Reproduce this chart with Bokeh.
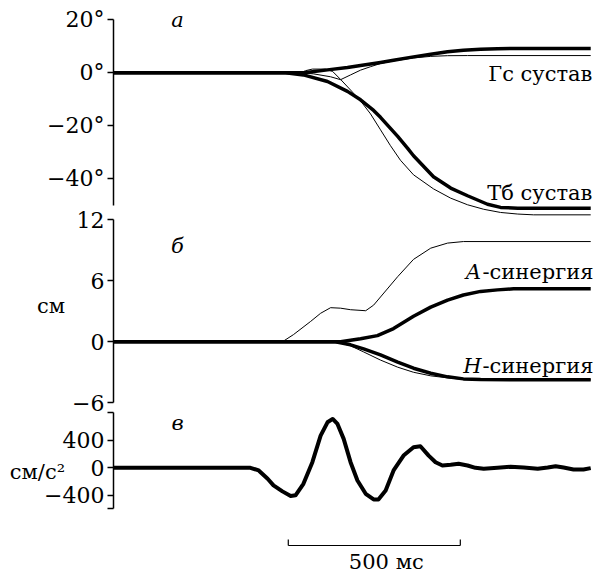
from bokeh.plotting import figure
from bokeh.models import Range1d, LinearAxis, FixedTicker, Label
from bokeh.layouts import column
from bokeh.embed import file_html
from bokeh.resources import INLINE

FONT = "DejaVu Serif"
FS = "21px"
TICK_FS = "22px"

# ---- panel а: joint angles (deg) ----
gs_thick_t = [0, 515, 560, 622, 680, 718, 776, 814, 872, 922, 971, 1017, 1067, 1116, 1163, 1387]
gs_thick_v = [0, 0, 0.15, 1.1, 2.0, 2.75, 3.9, 4.7, 6.0, 7.0, 7.9, 8.5, 8.9, 9.1, 9.2, 9.2]
gs_thin_t = [0, 544, 581, 631, 660, 689, 718, 747, 776, 814, 872, 922, 971, 1029, 1387]
gs_thin_v = [0, 0, -0.4, -1.5, -2.6, -0.8, 1.0, 2.3, 3.5, 4.5, 5.6, 6.2, 6.45, 6.5, 6.5]
tb_thick_t = [0, 500, 552, 622, 680, 718, 756, 776, 826, 855, 872, 930, 980, 1029, 1087, 1125, 1175, 1387]
tb_thick_v = [0, 0, -0.8, -3.3, -7.0, -10.2, -14.2, -16.8, -24, -28.5, -31.3, -39.2, -43.5, -46.4, -49.6, -50.8, -51.1, -51.1]
tb_thin_t = [0, 544, 558, 578, 616, 637, 660, 689, 718, 747, 776, 805, 834, 872, 930, 980, 1029, 1076, 1125, 1175, 1221, 1387]
tb_thin_v = [0, 0, 0.8, 1.4, 1.4, 0.5, -2.5, -6.5, -10.6, -15.5, -21.5, -27.5, -33, -38.5, -43.8, -47.3, -49.8, -51.5, -52.7, -53.3, -53.6, -53.6]

# ---- panel б: synergies (cm) ----
a_thin_t = [0, 491, 523, 573, 602, 631, 660, 689, 733, 756, 776, 826, 872, 922, 971, 1017, 1387]
a_thin_v = [0, 0, 0.7, 2.0, 2.8, 3.35, 3.3, 3.15, 3.05, 3.6, 4.4, 6.4, 8.1, 9.2, 9.7, 9.85, 9.85]
a_thick_t = [0, 660, 718, 767, 814, 872, 922, 971, 1017, 1067, 1116, 1163, 1387]
a_thick_v = [0, 0, 0.3, 0.6, 1.3, 2.5, 3.4, 4.1, 4.6, 4.95, 5.1, 5.2, 5.2]
h_thick_t = [0, 645, 689, 727, 776, 826, 872, 922, 971, 1017, 1067, 1387]
h_thick_v = [0, 0, -0.3, -0.7, -1.3, -2.0, -2.6, -3.1, -3.45, -3.65, -3.72, -3.74]
h_thin_t = [0, 645, 689, 727, 776, 826, 872, 922, 971, 1017, 1067, 1387]
h_thin_v = [0, 0, -0.4, -1.0, -1.8, -2.5, -3.0, -3.35, -3.55, -3.7, -3.74, -3.74]

# ---- panel в: acceleration (cm/s^2) ----
acc_t = [0, 398, 422, 448, 465, 491, 515, 529, 552, 578, 602, 622, 637, 651, 669, 689, 709, 733, 756, 770,
         791, 814, 843, 872, 892, 916, 936, 956, 980, 1003, 1029, 1052, 1076, 1116, 1154, 1192, 1233, 1262,
         1285, 1308, 1337, 1366, 1387]
acc_v = [0, 0, -39, -160, -257, -344, -412, -402, -233, 82, 470, 664, 713, 640, 422, 82, -185, -379, -461, -461,
         -330, -39, 179, 300, 314, 178, 82, 34, 44, 58, 34, 0, -15, 0, 15, 4, -15, 4,
         24, 4, -24, -24, -5]

# ticks
a_ticks = [20, 0, -20, -40]
a_tick_labels = ["20°", "0°", "−20°", "−40°"]
b_ticks = [12, 6, 0, -6]
b_tick_labels = ["12", "6", "0", "−6"]
c_ticks = [800, 400, 0, -400, -600]
c_tick_labels = ["", "400", "0", "−400", ""]

# scale bar (ms)
SB_START = 508
SB_LEN = 500
SB_TEXT = "500 мс"

T_MAX = 1398
W = 594
LEFT = 113


def make_fig(height, y0, y1, top=0, bottom=0, **kw):
    p = figure(width=W, height=height, x_range=Range1d(0, T_MAX), y_range=Range1d(y0, y1),
               x_axis_type=None, y_axis_type=None, toolbar_location=None, output_backend="svg",
               min_border_left=LEFT, min_border_right=0, min_border_top=top, min_border_bottom=bottom, **kw)
    p.outline_line_color = None
    return p


def add_axis(p, ticks, labels, bounds, label=None, standoff=0):
    ax = LinearAxis(bounds=bounds, ticker=FixedTicker(ticks=ticks),
                    major_label_overrides={t: l for t, l in zip(ticks, labels)})
    ax.axis_line_width = 1.5
    ax.major_tick_line_width = 1.5
    ax.major_tick_out = 6
    ax.major_tick_in = 0
    ax.minor_tick_line_color = None
    ax.major_label_standoff = 3
    ax.major_label_text_font = FONT
    ax.major_label_text_font_size = TICK_FS
    ax.major_label_text_color = "black"
    if label:
        ax.axis_label = label
        ax.axis_label_orientation = "horizontal"
        ax.axis_label_text_font = FONT
        ax.axis_label_text_font_size = FS
        ax.axis_label_text_font_style = "normal"
        ax.axis_label_text_color = "black"
        ax.axis_label_standoff = standoff
    p.add_layout(ax, "left")


def lab(p, x, y, text, align="right", style="normal", size=FS, xo=0):
    p.add_layout(Label(x=x, y=y, text=text, text_font=FONT, text_font_size=size, text_align=align,
                       text_baseline="middle", text_font_style=style, text_color="black", x_offset=xo))


# panel а
p1 = make_fig(218, -54.98, 22.75, top=12)
add_axis(p1, a_ticks, a_tick_labels, (-50, 20))
p1.line(gs_thin_t, gs_thin_v, line_width=1, color="black", line_join="round")
p1.line(tb_thin_t, tb_thin_v, line_width=1, color="black", line_join="round")
p1.line(gs_thick_t, gs_thick_v, line_width=3.5, color="black", line_join="round")
p1.line(tb_thick_t, tb_thick_v, line_width=3.5, color="black", line_join="round")
lab(p1, 186, 19.9, "а", align="center", style="italic")
lab(p1, 1392, -0.45, "Гс сустав")
lab(p1, 1392, -45.4, "Тб сустав")

# panel б
p2 = make_fig(212, -6.07, 13.10, top=4, bottom=13, margin=(-14, 0, 0, 0))
p2.border_fill_color = None
p2.background_fill_color = None
add_axis(p2, b_ticks, b_tick_labels, (-6, 12), label="см", standoff=4)
p2.line(a_thin_t, a_thin_v, line_width=1, color="black", line_join="round")
p2.line(h_thin_t, h_thin_v, line_width=1, color="black", line_join="round")
p2.line(a_thick_t, a_thick_v, line_width=3.5, color="black", line_join="round")
p2.line(h_thick_t, h_thick_v, line_width=3.5, color="black", line_join="round")
lab(p2, 186, 9.46, "б", align="center", style="italic")
lab(p2, 1395, 6.9, "-синергия")
lab(p2, 1395, 6.9, "А", style="italic", xo=-112)
lab(p2, 1395, -2.34, "-синергия")
lab(p2, 1395, -2.34, "Н", style="italic", xo=-112)

# panel в
p3 = make_fig(122, -915, 807, top=4, margin=(-8, 0, 0, 0))
p3.border_fill_color = None
p3.background_fill_color = None
add_axis(p3, c_ticks, c_tick_labels, (-600, 800), label="см/с²", standoff=-24)
p3.line(acc_t, acc_v, line_width=4, color="black", line_join="round")
lab(p3, 186, 660, "в", align="center", style="italic")

# time scale bar
p4 = make_fig(42, 0, 42)
sb_y = 27
sb_tick = 6
p4.segment(x0=[SB_START, SB_START, SB_START + SB_LEN], y0=[sb_y, sb_y, sb_y],
           x1=[SB_START + SB_LEN, SB_START, SB_START + SB_LEN], y1=[sb_y, sb_y + sb_tick, sb_y + sb_tick],
           line_width=1.2, color="black")
lab(p4, SB_START + SB_LEN / 2, 11, SB_TEXT, align="center", xo=12)

layout = column(p1, p2, p3, p4, spacing=0)
open("out.html", "w").write(file_html(layout, INLINE))
